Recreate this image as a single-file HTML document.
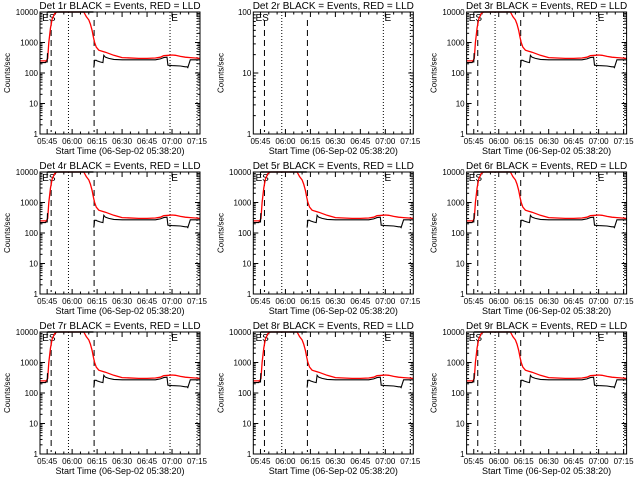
<!DOCTYPE html>
<html><head><meta charset="utf-8"><style>
html,body{margin:0;padding:0;background:#fff;}
svg{display:block;font-family:"Liberation Sans",sans-serif;}
</style></head><body>
<svg id="chart" width="640" height="480" viewBox="0 0 640 480" xmlns="http://www.w3.org/2000/svg"></svg>
<script>
// times in minutes after 05:00
const redTimes = [40.7,44.5,45.3,46,47,48,49.5,51,53,66,67,68.5,70,71,72,72.8,73.5,74.5,76,78,80,85,90,100,105,110,113,115,118,120,122,125,128,131,134,136.8];
const redValues = [250,250,300,1000,3000,6000,9000,10000,12000,12000,10000,7000,5500,4000,2500,1500,1000,700,560,520,480,380,320,300,300,310,330,370,380,390,380,350,330,320,310,300];
const blackTimes = [40.7,44,44.2,45,45.2,72.8,73,73.5,74.5,75,77,78.5,79,80,82,85,90,100,110,113,115,117,117.5,120,125,128,129,129.5,131,133,136.8];
const blackValues = [220,220,230,230,450,null,150,260,260,250,230,220,380,330,300,280,270,270,270,290,320,330,180,175,170,160,160,150,270,270,270];
const dashedLines = [47.4,73.2];
const dottedLines = [57.8,118.8,135];
const xTickLabels = ["05:45","06:00","06:15","06:30","06:45","07:00","07:15"];
const xTickTimes = [45,60,75,90,105,120,135];
const detLabels = ["1r","2r","3r","4r","5r","6r","7r","8r","9r"];
const emptyPanels = [1];

const NS="http://www.w3.org/2000/svg";
const svg=document.getElementById('chart');
function el(tag,attrs,parent){const e=document.createElementNS(NS,tag);for(const k in attrs)e.setAttribute(k,attrs[k]);(parent||svg).appendChild(e);return e;}

const PL=40,PR=200,PT=12,PB=134,T0=40.7,T1=136.8;
function xs(t){return PL+(t-T0)/(T1-T0)*(PR-PL);}

detLabels.forEach((det,i)=>{
  const col=i%3,row=Math.floor(i/3);
  const empty=emptyPanels.includes(i);
  const yMaxExp=empty?2:4;
  const ys=v=>PB-Math.log10(v)/yMaxExp*(PB-PT);
  const g=el('g',{transform:`translate(${(col*213.3).toFixed(1)},${row*160})`});
  
  
  const title=el('text',{x:120,y:9,'font-size':10,'text-anchor':'middle'},g);
  title.textContent=`Det ${det} BLACK = Events, RED = LLD`;
  
  
  const yl=el('text',{transform:`translate(10,${(PT+PB)/2}) rotate(-90)`,'font-size':8,'text-anchor':'middle'},g);
  yl.textContent='Counts/sec';
  
  
  const xl=el('text',{x:120,y:154,'font-size':9,'text-anchor':'middle'},g);
  xl.textContent='Start Time (06-Sep-02 05:38:20)';
  
  
  for(let e=0;e<=yMaxExp;e++){
    const y=ys(Math.pow(10,e));
    const tl=el('text',{x:PL-2,y:y+3,'font-size':8,'text-anchor':'end'},g);
    tl.textContent=String(Math.pow(10,e));
    
    
    el('line',{x1:PL,x2:PL+5,y1:y,y2:y,stroke:'#000'},g);
    el('line',{x1:PR,x2:PR-5,y1:y,y2:y,stroke:'#000'},g);
    if(e<yMaxExp)for(let m=2;m<10;m++){const ym=ys(m*Math.pow(10,e));
      el('line',{x1:PL,x2:PL+2.5,y1:ym,y2:ym,stroke:'#000'},g);
      el('line',{x1:PR,x2:PR-2.5,y1:ym,y2:ym,stroke:'#000'},g);}
  }
  xTickTimes.forEach((t,k)=>{
    const x=xs(t);
    el('line',{x1:x,x2:x,y1:PB,y2:PB-5,stroke:'#000'},g);
    el('line',{x1:x,x2:x,y1:PT,y2:PT+5,stroke:'#000'},g);
    for(let m=5;m<15;m+=5){const xm=xs(t+m);if(xm<PR){el('line',{x1:xm,x2:xm,y1:PB,y2:PB-2.5,stroke:'#000'},g);el('line',{x1:xm,x2:xm,y1:PT,y2:PT+2.5,stroke:'#000'},g);}}
    const tl=el('text',{x:x,y:PB+10,'font-size':8,'text-anchor':'middle'},g);
    tl.textContent=xTickLabels[k];
    
    
  });
  dashedLines.forEach(t=>{const l=el('line',{x1:xs(t),x2:xs(t),y1:PT+8,y2:PB-2,stroke:'#000','stroke-dasharray':'6,4'},g);
    
    });
  dottedLines.forEach(t=>{const l=el('line',{x1:xs(t),x2:xs(t),y1:PT,y2:PB,stroke:'#000','stroke-dasharray':'1,2'},g);
    
    });
  [['E',42],['S',46],['E',119.5]].forEach(([s,t])=>{const m=el('text',{x:xs(t),y:PT+9,'font-size':10},g);m.textContent=s;
    
    });
  if(!empty){
    const clip=v=>Math.max(PT,ys(v));
    let d='';
    redTimes.forEach((t,k)=>{d+=(k?'L':'M')+xs(t).toFixed(1)+','+clip(redValues[k]).toFixed(1);});
    const rl=el('path',{d:d,fill:'none',stroke:'#f00','stroke-width':1.3},g);
    
    
    let bd='',pen=false;
    blackTimes.forEach((t,k)=>{const v=blackValues[k];if(v===null){pen=false;return;}
      const x=xs(t).toFixed(1),y=clip(v).toFixed(1);
      bd+=(pen?'L':'M')+x+','+y;pen=true;});
    const bl=el('path',{d:bd,fill:'none',stroke:'#000','stroke-width':1.1},g);
    
    
    const sat=el('line',{x1:xs(45.2),x2:xs(72.8),y1:PT,y2:PT,stroke:'#000','stroke-width':1.5},g);
    
    
  }
  const box=el('rect',{x:PL,y:PT,width:PR-PL,height:PB-PT,fill:'none',stroke:'#000'},g);
  
  
});
</script>
</body></html>
